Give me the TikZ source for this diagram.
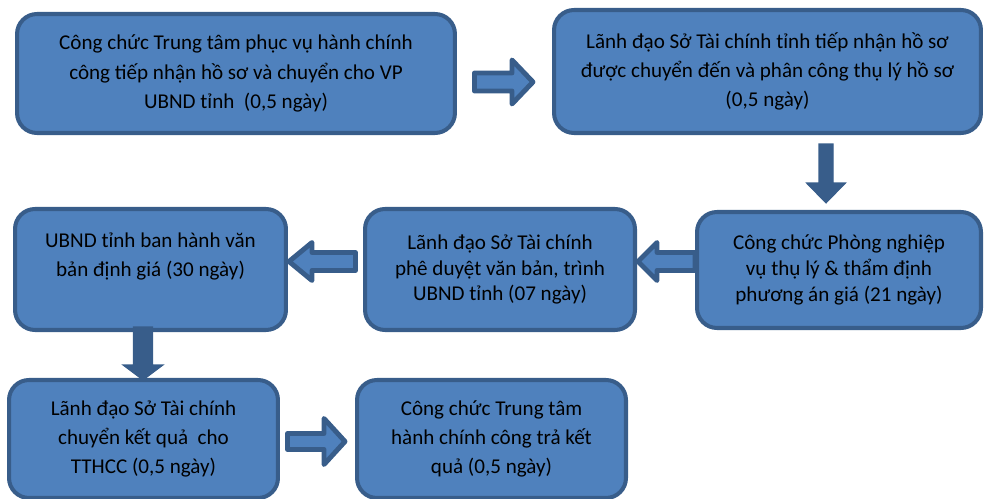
\documentclass[tikz,border=0pt]{standalone}
\usepackage{fontspec}
\setmainfont{Carlito}
\definecolor{boxfill}{HTML}{4F81BD}
\definecolor{boxline}{HTML}{385D8A}

\begin{document}
\begin{tikzpicture}[x=0.02cm, y=-0.02cm]
\tikzset{
  stepbox/.style={draw=boxline, fill=boxfill, line width=2.3pt, rounded corners=0.4cm,
                  align=center, inner sep=0pt, font=\fontsize{12}{16.7}\selectfont},
  tightbox/.style={stepbox, font=\fontsize{12}{14.7}\selectfont},
  sidearrow/.style={draw=boxline, fill=boxfill, line width=2.8pt, line join=round},
  downarrow/.style={draw=boxline, fill=boxline, line width=0.6pt},
}

\useasboundingbox (0,0) rectangle (984,499);

% first row
\node [stepbox, minimum width=8.76cm, minimum height=2.38cm] (b1) at (236,73.5)
  {Công chức Trung tâm phục vụ hành chính\\ công tiếp nhận hồ sơ và chuyển cho VP\\ UBND tỉnh\ \ (0,5 ngày)};
\node [stepbox, minimum width=8.54cm, minimum height=2.46cm] (b2) at (767.5,71.5)
  {Lãnh đạo Sở Tài chính tỉnh tiếp nhận hồ sơ\\ được chuyển đến và phân công thụ lý hồ sơ\\ (0,5 ngày)};

% second row
\node [tightbox, minimum width=5.68cm, minimum height=2.32cm] (b3) at (839,270)
  {Công chức Phòng nghiệp\\ vụ thụ lý \& thẩm định\\ phương án giá (21 ngày)};
\node [tightbox, minimum width=5.40cm, minimum height=2.42cm] (b4) at (500,269.5)
  {Lãnh đạo Sở Tài chính\\ phê duyệt văn bản, trình\\ UBND tỉnh (07 ngày)};
\node [stepbox, minimum width=5.42cm, minimum height=2.42cm] (b5) at (150.5,269.5)
  {UBND tỉnh ban hành văn\\ bản định giá (30 ngày)\\ \mbox{}};

% third row
\node [stepbox, minimum width=5.38cm, minimum height=2.36cm] (b6) at (143.5,439)
  {Lãnh đạo Sở Tài chính\\ chuyển kết quả\ \ cho\\ TTHCC (0,5 ngày)};
\node [stepbox, minimum width=5.38cm, minimum height=2.36cm] (b7) at (491.5,439)
  {Công chức Trung tâm\\ hành chính công trả kết\\ quả (0,5 ngày)};

% block arrows
\draw [sidearrow] ([shift={(17.5,8.5)}]b1.east) ++(0,-9) -- ++(37.5,0) -- ++(0,-13)
  -- ++(21,22) -- ++(-21,22) -- ++(0,-13) -- ++(-37.5,0) -- cycle;
\draw [downarrow] ([shift={(58.5,9)}]b2.south) ++(-7,0) -- ++(0,39) -- ++(-12.5,0)
  -- ++(19.5,20) -- ++(19.5,-20) -- ++(-12.5,0) -- ++(0,-39) -- cycle;
\draw [sidearrow] ([shift={(0,-8.5)}]b3.west) ++(0,-9) -- ++(-38,0) -- ++(0,-10)
  -- ++(-19,19) -- ++(19,19) -- ++(0,-10) -- ++(38,0) -- cycle;
\draw [sidearrow] ([shift={(-7.5,-8)}]b4.west) ++(0,-9) -- ++(-43.5,0) -- ++(0,-10)
  -- ++(-23,19) -- ++(23,19) -- ++(0,-10) -- ++(43.5,0) -- cycle;
\draw [downarrow] ([shift={(-7.5,-5)}]b5.south) ++(-9.5,0) -- ++(0,38) -- ++(-10.5,0)
  -- ++(20,15) -- ++(20,-15) -- ++(-10.5,0) -- ++(0,-38) -- cycle;
\draw [sidearrow] ([shift={(7.5,2.5)}]b6.east) ++(0,-8) -- ++(36.5,0) -- ++(0,-15)
  -- ++(21,23) -- ++(-21,23) -- ++(0,-15) -- ++(-36.5,0) -- cycle;
\end{tikzpicture}
\end{document}
